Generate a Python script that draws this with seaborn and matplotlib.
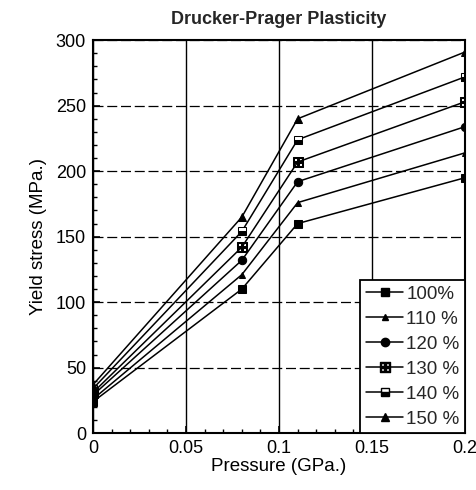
import numpy as np
import pandas as pd
import matplotlib
matplotlib.use("Agg")
import matplotlib.pyplot as plt
from matplotlib.ticker import MultipleLocator
from matplotlib.lines import Line2D
import seaborn as sns

pressure = [0.0, 0.08, 0.11, 0.2]
labels = ["100%", "110 %", "120 %", "130 %", "140 %", "150 %"]
y100 = [24, 110, 160, 195]
y110 = [26, 121, 176, 214]
y120 = [29, 132, 192, 234]
y130 = [31, 142, 207, 253]
y140 = [34, 154, 224, 272]
y150 = [37, 165, 240, 291]
series = [y100, y110, y120, y130, y140, y150]

rows = []
for lab, vals in zip(labels, series):
    for p, v in zip(pressure, vals):
        rows.append({"Pressure": p, "Yield": v, "Series": lab})
df = pd.DataFrame(rows)

sns.set_theme(style="white")
plt.rcParams['font.family'] = ['Liberation Sans', 'DejaVu Sans']

fig = plt.figure(figsize=(4.77, 4.90), dpi=100)
ax = fig.add_axes([0.195, 0.116, 0.78, 0.802])

markers = {"100%": "s", "110 %": "^", "120 %": "o",
           "130 %": "$\\boxplus$", "140 %": "s", "150 %": "^"}
sizes = {"100%": 6, "110 %": 4.5, "120 %": 6, "130 %": 7, "140 %": 6, "150 %": 6}
palette = {lab: "black" for lab in labels}

sns.lineplot(data=df, x="Pressure", y="Yield", hue="Series", style="Series",
             markers=markers, dashes=False, palette=palette, ax=ax,
             linewidth=1.1, legend=False)

for line, lab in zip(ax.get_lines(), labels):
    line.set_markersize(sizes[lab])
    line.set_markeredgecolor("black")
    line.set_markerfacecolor("black")
    if lab == "140 %":
        line.set_fillstyle("bottom")
        line.set_markerfacecoloralt("white")

ax.set_xlim(0, 0.2)
ax.set_ylim(0, 300)
ax.xaxis.set_major_locator(MultipleLocator(0.05))
ax.xaxis.set_minor_locator(MultipleLocator(0.01))
ax.yaxis.set_major_locator(MultipleLocator(50))
ax.yaxis.set_minor_locator(MultipleLocator(10))
ax.set_xticks([0, 0.05, 0.1, 0.15, 0.2])
ax.set_xticklabels(["0", "0.05", "0.1", "0.15", "0.2"])

ax.tick_params(which="both", direction="in", color="black", bottom=True, left=True,
               top=False, right=False)
ax.tick_params(which="major", length=5, width=1.2, labelsize=13, pad=5)
ax.tick_params(which="minor", length=3, width=1)

ax.xaxis.grid(True, color="black", linewidth=1.0, linestyle="-")
ax.yaxis.grid(True, color="black", linewidth=0.9, linestyle=(0, (8, 3)))
ax.set_axisbelow(True)

for s in ax.spines.values():
    s.set_color("black")
    s.set_linewidth(1.5)
    s.set_visible(True)

ax.set_xlabel("Pressure (GPa.)", fontsize=13.5, color="black", labelpad=1)
ax.set_ylabel("Yield stress (MPa.)", fontsize=13.5, color="black", labelpad=6)
ax.set_title("Drucker-Prager Plasticity", fontsize=13, fontweight="bold", pad=12)
for t in ax.get_xticklabels() + ax.get_yticklabels():
    t.set_color("black")

handles = []
for lab in labels:
    h = Line2D([], [], color="black", linewidth=1.1, marker=markers[lab],
               markersize=sizes[lab], markerfacecolor="black", markeredgecolor="black")
    if lab == "140 %":
        h.set_fillstyle("bottom")
        h.set_markerfacecoloralt("white")
    handles.append(h)
leg = ax.legend(handles, labels, loc="lower right", fontsize=13.5, frameon=True,
                fancybox=False, edgecolor="black", framealpha=1,
                borderaxespad=0.0, handlelength=2.0, handletextpad=0.15,
                labelspacing=0.42, borderpad=0.3)
leg.get_frame().set_linewidth(1.3)

fig.savefig("out.png", dpi=100)
